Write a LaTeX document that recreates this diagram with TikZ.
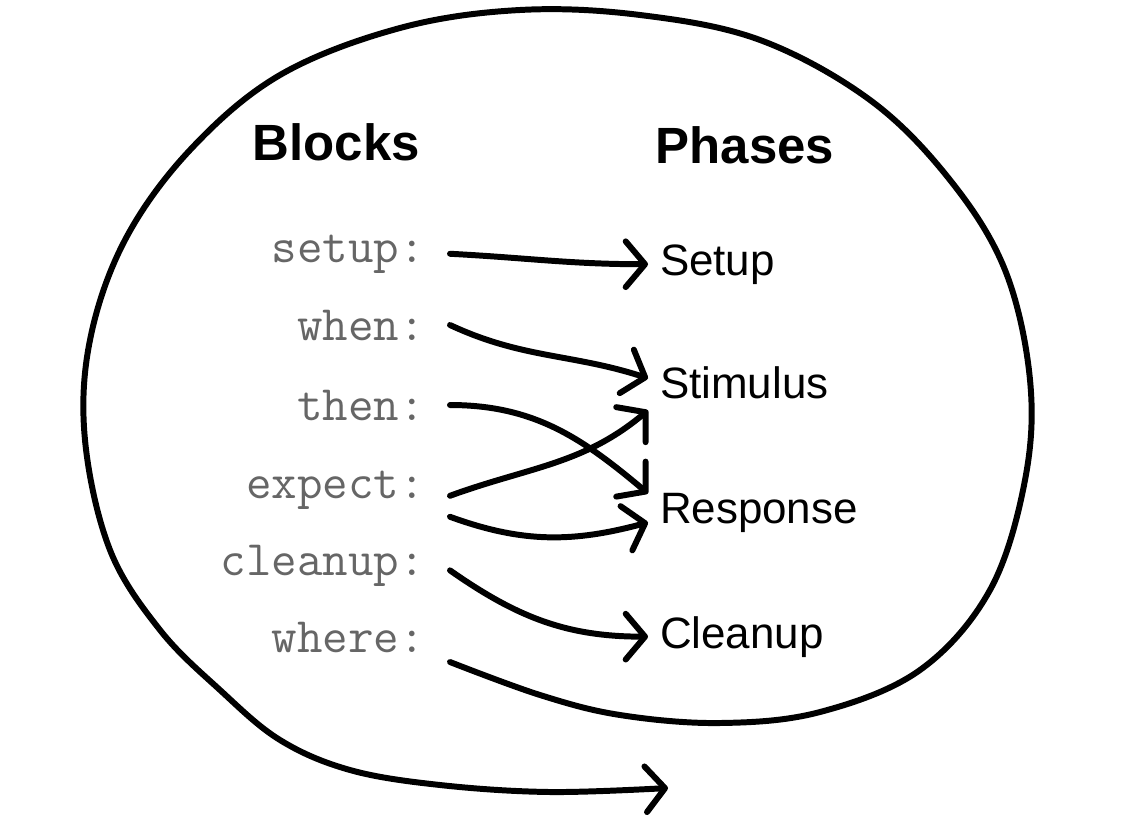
\documentclass[tikz,border=0pt]{standalone}
\usepackage{fontspec}
\setmainfont{Liberation Sans}
\usetikzlibrary{arrows.meta}

\begin{document}
\begin{tikzpicture}[
    headlbl/.style={font=\bfseries\fontsize{14.5}{17}\selectfont, anchor=base west, inner sep=0pt},
    blocklbl/.style={font=\ttfamily\fontsize{14.1}{16}\selectfont, text=black!60, anchor=base east, inner sep=0pt, outer xsep=0.25cm},
    phaselbl/.style={font=\fontsize{12.5}{15}\selectfont, anchor=base west, inner sep=0pt, outer xsep=0.12cm},
    flow/.style={line width=1.7pt, line cap=round, line join=round, -{Straight Barb[length=5.5pt,width=13pt,line cap=round,line join=round]}}
  ]
      \useasboundingbox (0,0) rectangle (11.24,8.22);
      % headings
      \node[headlbl] (blocks) at (2.52,6.62) {Blocks};
      \node[headlbl] (phases) at (6.55,6.59) {Phases};
      % blocks
      \node[blocklbl] (bsetup) at (4.50,5.60) {setup:};
      \node[blocklbl] (bwhen) at (4.50,4.82) {when:};
      \node[blocklbl] (bthen) at (4.50,4.02) {then:};
      \node[blocklbl] (bexpect) at (4.50,3.24) {expect:};
      \node[blocklbl] (bclean) at (4.50,2.47) {cleanup:};
      \node[blocklbl] (bwhere) at (4.50,1.70) {where:};
      % phases
      \node[phaselbl] (psetup) at (6.48,5.47) {Setup};
      \node[phaselbl] (pstim) at (6.48,4.24) {Stimulus};
      \node[phaselbl] (presp) at (6.48,2.99) {Response};
      \node[phaselbl] (pclean) at (6.48,1.74) {Cleanup};
      % block -> phase
      \draw[flow] (bsetup.east) to[out=-3,in=180] (psetup.west);
      \draw[flow] (bwhen.east) to[out=-25,in=162] ([yshift=0.04cm]pstim.west);
      \draw[flow] (bthen.east) to[out=0,in=140] ([yshift=0.19cm]presp.west);
      \draw[flow] ([yshift=-0.06cm]bexpect.east) to[out=20,in=-140] ([yshift=-0.28cm]pstim.west);
      \draw[flow] ([yshift=-0.27cm]bexpect.east) to[out=-20,in=-165] ([yshift=-0.1cm]presp.west);
      \draw[flow] ([yshift=-0.05cm]bclean.east) to[out=-35,in=180] (pclean.west);
      % where: loops round everything
      \coordinate (wstart) at ([yshift=-0.25cm]bwhere.east);
      \coordinate (wend) at (6.68,0.34);
      \draw[flow] plot[smooth,tension=0.6] coordinates {(wstart) (5.40,1.27) (6.20,1.07) (7.20,0.99) (8.20,1.10) (9.20,1.52) (9.90,2.32) (10.25,3.42) (10.30,4.42) (10.05,5.52) (9.50,6.42) (8.70,7.22) (7.60,7.82) (6.40,8.07) (5.20,8.12) (4.00,7.94) (2.80,7.47) (1.90,6.72) (1.25,5.82) (0.90,4.82) (0.85,3.82) (1.10,2.72) (1.60,1.92) (2.20,1.32) (2.80,0.82) (3.50,0.52) (4.40,0.37) (5.50,0.30) (wend)};
    \end{tikzpicture}
\end{document}
